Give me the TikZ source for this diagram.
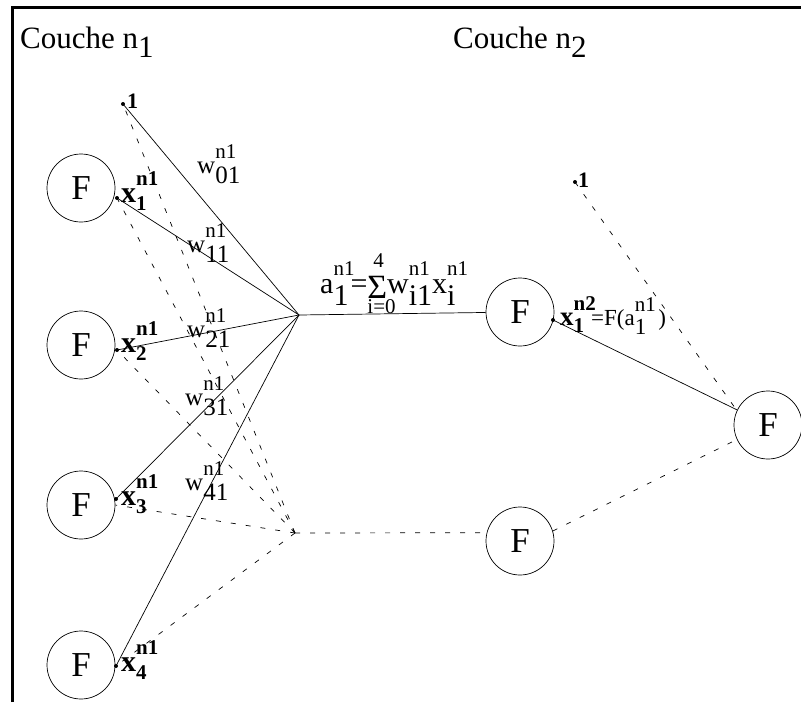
\documentclass[tikz,border=0pt]{standalone}
\usepackage{fontspec}
\setmainfont{Liberation Serif}
\usetikzlibrary{positioning}
\newcommand{\supsz}{\fontsize{21}{21}\selectfont}
\newcommand{\ssc}[3]{#1\rlap{\raisebox{.6em}{\supsz #2}}\raisebox{-.4em}{#3}}
\newcommand{\xsc}[3]{#1\rlap{\raisebox{.55em}{\supsz #2}}\raisebox{-.28em}{\supsz #3}}

\begin{document}
\begin{tikzpicture}[x=1pt, y=-1pt,
  neuron/.style={circle, draw, line width=0.7pt, minimum size=68pt, inner sep=0pt, font=\fontsize{35}{35}\selectfont},
  dotpt/.style={circle, fill, inner sep=0pt, minimum size=4pt},
  layer/.style={anchor=base west, inner sep=0pt, font=\fontsize{31}{31}\selectfont},
  wlabel/.style={anchor=base west, inner sep=0pt, font=\fontsize{25}{25}\selectfont},
  xlabel/.style={anchor=base west, inner sep=0pt, font=\fontsize{30}{30}\selectfont\bfseries},
  biaslabel/.style={anchor=base west, inner sep=0pt, font=\fontsize{22}{22}\selectfont\bfseries},
  weight/.style={line width=0.7pt},
  other/.style={line width=0.7pt, dash pattern=on 5pt off 10pt}]
  \useasboundingbox (0,0) rectangle (801,702);
  \draw[line width=3pt] (12,702) -- (12,7) -- (801,7);

  \node[layer] (c1) at (20,48) {Couche n\raisebox{-.3em}{1}};
  \node[layer] (c2) at (453,48) {Couche n\raisebox{-.3em}{2}};

  \node[neuron] (in1) at (81,188) {F};
  \node[neuron] (in2) at (81,345) {F};
  \node[neuron] (in3) at (81,505) {F};
  \node[neuron] (in4) at (81,665) {F};
  \node[neuron] (h1) at (520,312) {F};
  \node[neuron] (h2) at (520,541) {F};
  \node[neuron] (out) at (768,425) {F};

  \node[dotpt] (b1) at (123,104) {};
  \node[dotpt] (x1) at (117,198) {};
  \node[dotpt] (x2) at (117,350) {};
  \node[dotpt] (x3) at (116,499) {};
  \node[dotpt] (x4) at (116,666) {};
  \node[dotpt] (y1) at (553,320) {};
  \node[dotpt] (b2) at (575,182) {};
  \coordinate (sum) at (299,315);
  \coordinate (sum2) at (295,533);

  \foreach \s in {b1,x1,x2,x3,x4}
    \draw[weight] (\s.center) -- (sum);
  \foreach \s in {b1,x1,x2,x4}
    \draw[other] (sum2) -- (\s.center);
  \draw[other] (sum2) -- (in3.east);
  \draw[weight] (sum) -- (h1);
  \draw[other] (sum2) -- (h2.166);
  \draw[weight] (y1.center) -- (out);
  \draw[other] (b2.center) -- (out.155);
  \draw[other] (h2.17) -- (out.205);

  \node[biaslabel] (l0) at (127,108) {1};
  \node[biaslabel] (l5) at (578,187) {1};
  \node[xlabel] (l1) at (121,202) {\xsc{x}{n1}{1}};
  \node[xlabel] (l2) at (121,352) {\xsc{x}{n1}{2}};
  \node[xlabel] (l3) at (121,505) {\xsc{x}{n1}{3}};
  \node[xlabel] (l4) at (121,671) {\xsc{x}{n1}{4}};

  \node[wlabel] (w0) at (197,173) {\ssc{w}{n1}{01}};
  \node[wlabel] (w1) at (187,252) {\ssc{w}{n1}{11}};
  \node[wlabel] (w2) at (187,337) {\ssc{w}{n1}{21}};
  \node[wlabel] (w3) at (185,405) {\ssc{w}{n1}{31}};
  \node[wlabel] (w4) at (185,490) {\ssc{w}{n1}{41}};

  \node[wlabel, font=\fontsize{30}{30}\selectfont] (act) at (320,293)
    {\ssc{a}{n1}{1}\hspace{2pt}=\rlap{\raisebox{26pt}{\supsz\hspace{6pt}4}}\rlap{\raisebox{-20pt}{\supsz i=0}}\raisebox{-5pt}{\fontsize{34}{34}\selectfont Σ}\ssc{w}{n1}{i1}\ssc{x}{n1}{i}};
  \node[xlabel, font=\fontsize{27}{27}\selectfont\bfseries] (outx) at (560,325)
    {\xsc{x}{n2}{1}\hspace{7pt}\fontsize{23}{23}\mdseries=F(\ssc{a}{n1}{1}\hspace{12pt})};
\end{tikzpicture}
\end{document}
